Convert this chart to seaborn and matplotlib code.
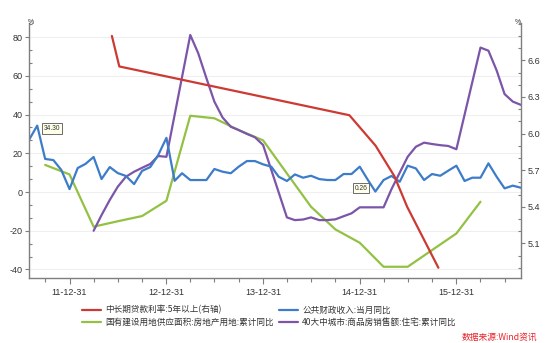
import numpy as np
import pandas as pd
import matplotlib
matplotlib.use("Agg")
import matplotlib.pyplot as plt
import matplotlib.dates as mdates
from matplotlib.ticker import MultipleLocator, FixedLocator
from matplotlib.lines import Line2D
import seaborn as sns

sns.set_theme(style="white")
plt.rcParams['font.family'] = ['Liberation Sans', 'Noto Sans CJK SC', 'DejaVu Sans']
plt.rcParams['axes.unicode_minus'] = False

def month_ends(months):
    return [pd.Period(m, freq='M').to_timestamp(how='end').normalize() for m in months]

# ---- data ----
red_name = "中长期贷款利率:5年以上(右轴)"
red_dates = pd.to_datetime(["2012-06-08", "2012-07-06", "2014-11-22", "2015-03-01",
                            "2015-05-11", "2015-06-28", "2015-08-26", "2015-10-24"])
red_vals = [6.80, 6.55, 6.15, 5.90, 5.65, 5.40, 5.15, 4.90]

blue_name = "公共财政收入:当月同比"
blue_months = [str(p) for p in pd.period_range("2011-07", "2016-08", freq="M")]
blue_vals = [26.9, 34.3, 17.1, 16.5, 11.4, 1.5,
             12.4, 14.5, 18.1, 6.7, 12.9, 9.8, 8.3, 4.1, 10.9, 12.9, 19.1, 28.0,
             5.8, 9.7, 6.2, 6.2, 6.2, 11.9, 10.5, 9.7, 13.1, 16.0, 16.0, 14.3,
             13.1, 7.9, 5.7, 9.1, 7.4, 8.4, 6.7, 6.2, 6.2, 9.3, 9.3, 13.1,
             6.2, 0.26, 6.2, 8.3, 5.3, 13.6, 12.2, 6.2, 9.3, 8.4, 11.0, 13.6,
             5.7, 7.4, 7.4, 14.8, 7.9, 1.9, 3.3, 2.2]

green_name = "国有建设用地供应面积:房地产用地:累计同比"
green_months = ["2011-09", "2011-12", "2012-03", "2012-06", "2012-09", "2012-12",
                "2013-03", "2013-06", "2013-09", "2013-12", "2014-03", "2014-06",
                "2014-09", "2014-12", "2015-03", "2015-06", "2015-09", "2015-12", "2016-03"]
green_vals = [14.0, 9.1, -17.9, -15.1, -12.4, -4.5,
              39.4, 38.1, 32.0, 26.7, 9.6, -7.6,
              -19.3, -26.2, -38.6, -38.6, -30.0, -21.4, -5.0]

purple_name = "40大中城市:商品房销售额:住宅:累计同比"
purple_months = ["2012-03", "2012-04", "2012-05", "2012-06", "2012-07", "2012-08",
                 "2012-09", "2012-10", "2012-11", "2012-12",
                 "2013-03", "2013-04", "2013-05", "2013-06", "2013-07", "2013-08",
                 "2013-09", "2013-10", "2013-11", "2013-12",
                 "2014-03", "2014-04", "2014-05", "2014-06", "2014-07", "2014-08",
                 "2014-09", "2014-10", "2014-11", "2014-12",
                 "2015-02", "2015-03", "2015-04", "2015-05", "2015-06", "2015-07",
                 "2015-08", "2015-09", "2015-10", "2015-11", "2015-12",
                 "2016-03", "2016-04", "2016-05", "2016-06", "2016-07", "2016-08"]
purple_vals = [-20.0, -11.9, -4.1, 2.7, 7.9, 10.5,
               12.5, 14.5, 18.6, 18.2,
               81.1, 71.7, 58.8, 46.7, 38.5, 33.7,
               32.0, 30.0, 28.3, 24.3,
               -13.1, -14.5, -14.2, -13.1, -14.5, -14.5,
               -14.1, -12.5, -11.0, -7.9,
               -7.9, -7.9, 1.5, 10.0, 18.2, 23.4,
               25.5, 24.8, 24.2, 23.8, 22.1,
               74.6, 73.0, 62.8, 50.6, 46.7, 45.0]

xtick_labels = ["11-12-31", "12-12-31", "13-12-31", "14-12-31", "15-12-31"]
source_text = "数据来源:Wind资讯"

colors = {"red": "#cc3a33", "blue": "#3d7cc9", "green": "#93c143", "purple": "#7c55a8"}

df_blue = pd.DataFrame({"date": month_ends(blue_months), "v": blue_vals})
df_green = pd.DataFrame({"date": month_ends(green_months), "v": green_vals})
df_purple = pd.DataFrame({"date": month_ends(purple_months), "v": purple_vals})
df_red = pd.DataFrame({"date": red_dates, "v": red_vals})

# ---- figure ----
fig = plt.figure(figsize=(5.5, 3.43), dpi=100)
ax = fig.add_axes([29/550, 1-278/343, (521-29)/550, (278-23)/343])
ax2 = ax.twinx()

lw = 1.6
sns.lineplot(data=df_green, x="date", y="v", ax=ax, color=colors["green"], lw=lw, errorbar=None, legend=False)
sns.lineplot(data=df_purple, x="date", y="v", ax=ax, color=colors["purple"], lw=lw, errorbar=None, legend=False)
sns.lineplot(data=df_blue, x="date", y="v", ax=ax, color=colors["blue"], lw=lw, errorbar=None, legend=False)
sns.lineplot(data=df_red, x="date", y="v", ax=ax2, color=colors["red"], lw=lw, errorbar=None, legend=False)

ax.set_xlim(pd.Timestamp("2011-07-31"), pd.Timestamp("2016-08-31"))
ax.set_ylim(-44.4, 87.3)
ax2.set_ylim(4.816, 6.906)

ax.set_xlabel("")
ax.set_ylabel("")
ax2.set_ylabel("")

# x ticks
major_dates = pd.to_datetime(["2011-12-31", "2012-12-31", "2013-12-31", "2014-12-31", "2015-12-31"])
ax.xaxis.set_major_locator(FixedLocator(mdates.date2num(major_dates)))
ax.set_xticklabels(xtick_labels)
minor_dates = [d for d in pd.date_range("2011-07-01", "2016-09-30", freq="QE") if d not in set(major_dates)]
ax.xaxis.set_minor_locator(FixedLocator(mdates.date2num(minor_dates)))

# y ticks
ax.yaxis.set_major_locator(FixedLocator([-40, -20, 0, 20, 40, 60, 80]))
ax.yaxis.set_minor_locator(MultipleLocator(20/3))
ax2.yaxis.set_major_locator(FixedLocator([5.1, 5.4, 5.7, 6.0, 6.3, 6.6]))
ax2.yaxis.set_minor_locator(MultipleLocator(0.1))
ax2.set_yticklabels(["5.1", "5.4", "5.7", "6.0", "6.3", "6.6"])

tick_col = "#333333"
spine_col = "#7f7f7f"
ax.tick_params(axis="x", which="major", direction="out", length=4, width=0.8, color=spine_col,
               labelsize=6.5, labelcolor=tick_col, pad=3, bottom=True)
ax.tick_params(axis="x", which="minor", direction="out", length=3, width=0.8, color=spine_col, bottom=True)
ax.tick_params(axis="y", which="major", direction="out", length=3, width=0.8, color=spine_col,
               labelsize=6.5, labelcolor=tick_col, pad=1.5, left=True)
ax.tick_params(axis="y", which="minor", direction="in", length=2.5, width=0.8, color=spine_col, left=True)
ax2.tick_params(axis="y", which="major", direction="out", length=3, width=0.8, color=spine_col,
                labelsize=6.5, labelcolor=tick_col, pad=1.5, right=True)
ax2.tick_params(axis="y", which="minor", direction="in", length=2.5, width=0.8, color=spine_col, right=True)

for a in (ax, ax2):
    a.spines["top"].set_visible(False)
    for s in ("left", "right", "bottom"):
        a.spines[s].set_color(spine_col)
        a.spines[s].set_linewidth(1.0)
ax.spines["right"].set_visible(False)
ax2.spines["left"].set_visible(False)
ax2.spines["bottom"].set_visible(False)

ax.grid(axis="y", which="major", color="#efefef", lw=0.8)
ax.set_axisbelow(True)
ax2.grid(False)

# annotations
bbox = dict(boxstyle="square,pad=0.25", fc="#ffffea", ec="#555555", lw=0.6)
ax.annotate("34.30", xy=(df_blue["date"][1], blue_vals[1]), xytext=(5, -2), textcoords="offset points",
            ha="left", va="center", fontsize=4.8, color="#333333", bbox=bbox, zorder=10)
ax.annotate("0.26", xy=(df_blue["date"][43], blue_vals[43]), xytext=(-5.5, 2.5), textcoords="offset points",
            ha="right", va="center", fontsize=4.8, color="#333333", bbox=bbox, zorder=10)

# % units
fig.text(31/550, 1-22/343, "%", fontsize=5, color="#333333", ha="center", va="center")
fig.text(518/550, 1-22/343, "%", fontsize=5, color="#333333", ha="center", va="center")

# legend
handles = [Line2D([], [], color=colors["red"], lw=lw),
           Line2D([], [], color=colors["green"], lw=lw),
           Line2D([], [], color=colors["blue"], lw=lw),
           Line2D([], [], color=colors["purple"], lw=lw)]
labels = [red_name, green_name, blue_name, purple_name]
leg = fig.legend(handles, labels, ncol=2, loc="center", bbox_to_anchor=(0.49, 1-316/343),
                 frameon=False, prop={"family": ["Noto Sans CJK SC", "DejaVu Sans"], "size": 6.2},
                 handlelength=2.2, handletextpad=0.5, columnspacing=0.6, labelspacing=0.35)
for t in leg.get_texts():
    t.set_color("#333333")

fig.text(537/550, 1-337/343, source_text, fontsize=6.3, color="#e8232b", style="italic",
         ha="right", va="center", family=["Noto Sans CJK SC", "DejaVu Sans"])

fig.savefig("out.png", dpi=100)
